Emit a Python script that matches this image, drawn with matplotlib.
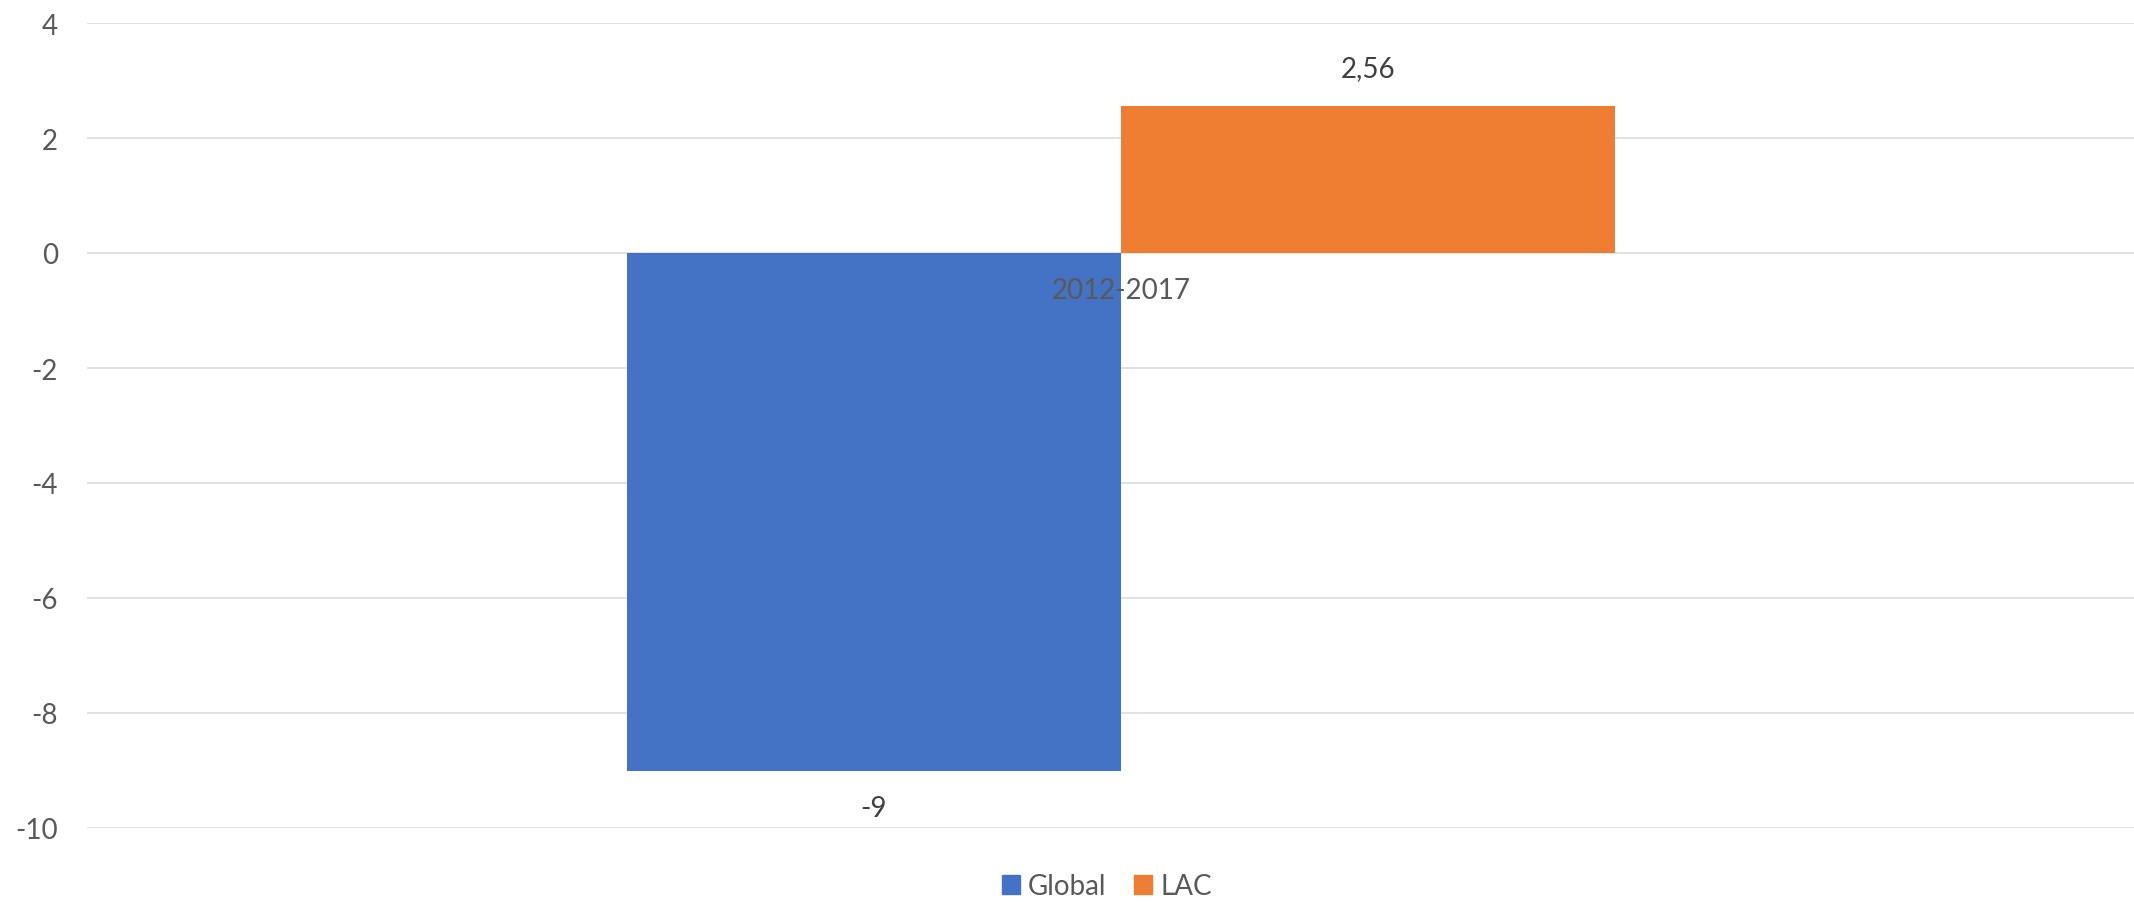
import matplotlib
matplotlib.use('Agg')
import matplotlib.pyplot as plt
from matplotlib.patches import Patch

# data
category = '2012-2017'
series = ['Global', 'LAC']
values = [-9, 2.56]
colors = ['#4472C4', '#ED7D31']
yticks = [-10, -8, -6, -4, -2, 0, 2, 4]

plt.rcParams['font.family'] = ['Lato', 'DejaVu Sans']
plt.rcParams['axes.unicode_minus'] = False

fig = plt.figure(figsize=(21.34, 9.03), dpi=100)
ax = fig.add_axes([87 / 2134, 74 / 903, 1 - 87 / 2134, 805 / 903])

width = 1.0
offsets = [-0.5, 0.5]
for name, v, c, off in zip(series, values, colors, offsets):
    ax.bar(off, v, width=width, color=c, zorder=2, label=name)
    lbl = ('%g' % v).replace('.', ',')
    dy = 18 if v >= 0 else -18
    ax.annotate(lbl, (off, v), xytext=(0, dy), textcoords='offset points',
                ha='center', va='bottom' if v >= 0 else 'top',
                fontsize=20, color='#404040')

# category label sits just under the zero line
ax.annotate(category, (0, 0), xytext=(0, -24), textcoords='offset pixels',
            ha='center', va='top', fontsize=20, color='#595959', zorder=3)

ax.set_xlim(-2.093, 2.051)
ax.set_ylim(-10, 4)
ax.set_yticks(yticks)
ax.set_xticks([])
ax.yaxis.grid(True, color='#d9d9d9', lw=1.1, zorder=0)
ax.tick_params(axis='y', length=0, pad=21, labelsize=20, labelcolor='#595959')
for s in ax.spines.values():
    s.set_visible(False)

handles = [Patch(color=c, label=n) for n, c in zip(series, colors)]
fig.legend(handles=handles, loc='center', bbox_to_anchor=(1107 / 2134, 1 - 887 / 903),
           ncol=2, frameon=False, fontsize=20, labelcolor='#595959',
           handlelength=0.65, handleheight=0.65, handletextpad=0.3, columnspacing=1.0)

fig.savefig('out.png', dpi=100)
